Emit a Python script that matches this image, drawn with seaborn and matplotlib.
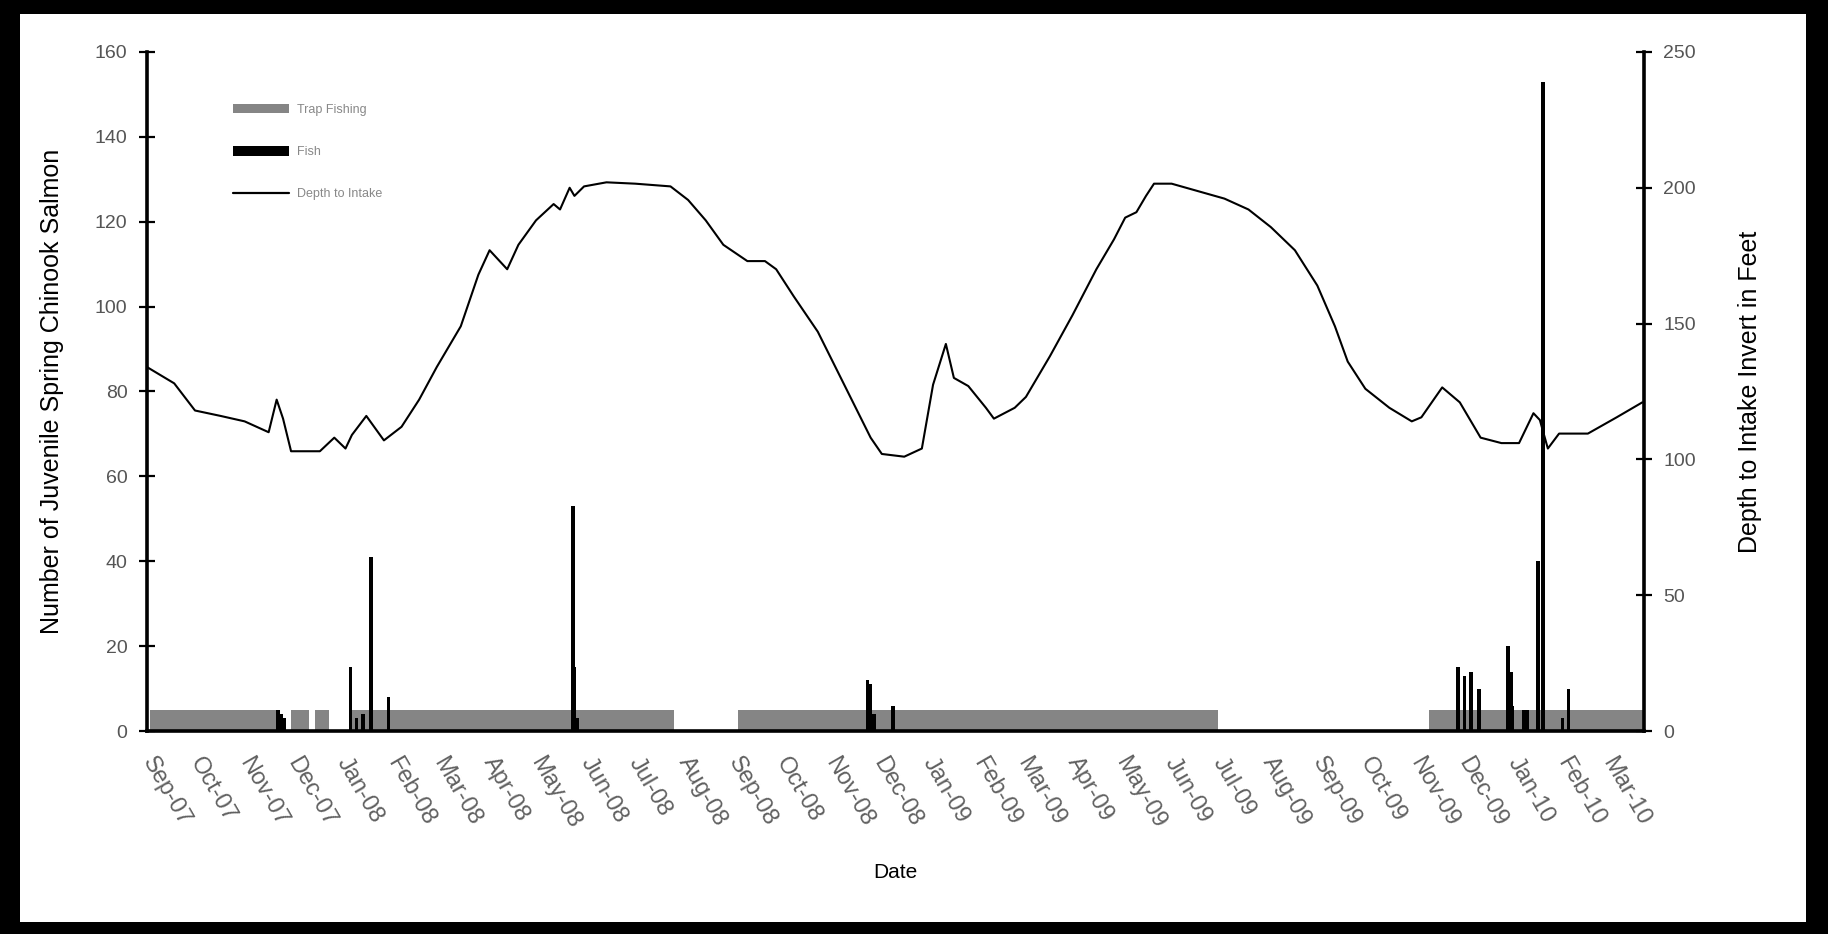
import matplotlib
matplotlib.use("Agg")
import matplotlib.pyplot as plt
import matplotlib.dates as mdates
from matplotlib.patches import Patch, Rectangle
from matplotlib.lines import Line2D
import pandas as pd
import seaborn as sns

# ---------------- data ----------------
# periods when the trap was sampling (drawn as grey bars of height 5)
sample_start = ["2007-09-03", "2007-11-30", "2007-12-15", "2008-01-07", "2008-09-04", "2009-11-10"]
sample_end = ["2007-11-21", "2007-12-11", "2007-12-24", "2008-07-26", "2009-07-01", "2010-03-24"]
sample_height = 5

# daily catch of juvenile spring Chinook salmon
catch_dates = ["2007-11-22", "2007-11-24", "2007-11-26",
               "2008-01-06", "2008-01-10", "2008-01-14", "2008-01-19", "2008-01-30",
               "2008-05-24", "2008-05-25", "2008-05-27",
               "2008-11-24", "2008-11-26", "2008-11-28", "2008-12-10",
               "2009-11-28", "2009-12-02", "2009-12-06", "2009-12-11",
               "2009-12-29", "2009-12-31", "2010-01-01", "2010-01-08", "2010-01-10",
               "2010-01-17", "2010-01-20", "2010-02-01", "2010-02-05"]
catch_counts = [5, 4, 3,
                15, 3, 4, 41, 8,
                53, 15, 3,
                12, 11, 4, 6,
                15, 13, 14, 10,
                20, 14, 6, 5, 5,
                40, 153, 3, 10]

# depth to intake invert (feet)
depth_dates = ["2007-09-01", "2007-09-18", "2007-10-01", "2007-10-17", "2007-11-01", "2007-11-16",
               "2007-11-21", "2007-11-25", "2007-11-30", "2007-12-07", "2007-12-18", "2007-12-27",
               "2008-01-03", "2008-01-07", "2008-01-16", "2008-01-27", "2008-02-07", "2008-02-18",
               "2008-02-29", "2008-03-15", "2008-03-26", "2008-04-02", "2008-04-13", "2008-04-20",
               "2008-05-01", "2008-05-12", "2008-05-16", "2008-05-22", "2008-05-25", "2008-05-31",
               "2008-06-14", "2008-07-02", "2008-07-24", "2008-08-04", "2008-08-15", "2008-08-26",
               "2008-09-10", "2008-09-21", "2008-09-28", "2008-10-09", "2008-10-24", "2008-11-04",
               "2008-11-15", "2008-11-26", "2008-12-03", "2008-12-17", "2008-12-28", "2009-01-04",
               "2009-01-12", "2009-01-17", "2009-01-26", "2009-02-06", "2009-02-11", "2009-02-24",
               "2009-03-03", "2009-03-18", "2009-04-01", "2009-04-16", "2009-04-27", "2009-05-04",
               "2009-05-11", "2009-05-17", "2009-05-22", "2009-06-02", "2009-06-17", "2009-07-05",
               "2009-07-20", "2009-08-03", "2009-08-18", "2009-09-01", "2009-09-12", "2009-09-20",
               "2009-10-01", "2009-10-16", "2009-10-30", "2009-11-05", "2009-11-18", "2009-11-29",
               "2009-12-12", "2009-12-25", "2010-01-05", "2010-01-14", "2010-01-18", "2010-01-23",
               "2010-01-30", "2010-02-17", "2010-03-07", "2010-03-23"]
depth_values = [134, 128, 118, 116, 114, 110,
                122, 115, 103, 103, 103, 108,
                104, 109, 116, 107, 112, 122,
                134, 149, 168, 177, 170, 179,
                188, 194, 192, 200, 197, 200.5,
                202, 201.5, 200.5, 195.5, 188, 179,
                173, 173, 170, 160, 147, 134,
                121, 108, 102, 101, 104, 127.5,
                142.5, 130, 127, 119, 115, 119,
                123, 138, 153, 170, 181, 189,
                191, 197, 201.5, 201.5, 199, 196,
                192, 185.5, 177, 164, 149, 136,
                126, 119, 114, 115.5, 126.5, 121,
                108, 106, 106, 117, 114.5, 104,
                109.5, 109.5, 115.5, 121]

left_ticks = [0, 20, 40, 60, 80, 100, 120, 140, 160]
right_ticks = [0, 50, 100, 150, 200, 250]
x_start, x_end = "2007-09-01", "2010-03-24"

legend_labels = ["Trap Fishing", "Fish", "Depth to Intake"]
left_label = "Number of Juvenile Spring Chinook Salmon"
right_label = "Depth to Intake Invert in Feet"
x_label = "Date"

# ---------------- plot ----------------
sns.set_style("white")
plt.rcParams['font.family'] = ['Liberation Sans', 'DejaVu Sans']

fig = plt.figure(figsize=(18.28, 9.34), dpi=100)
ax = fig.add_axes([0.0804, 0.2173, 0.8189, 0.7271])
ax2 = ax.twinx()

s0 = mdates.date2num(pd.to_datetime(sample_start))
s1 = mdates.date2num(pd.to_datetime(sample_end))
ax.bar(s0, [sample_height] * len(s0), width=s1 - s0, align='edge',
       color='#858585', edgecolor='none', zorder=2)

cx = mdates.date2num(pd.to_datetime(catch_dates))
ax.bar(cx, catch_counts, width=2.2, align='center', color='black',
       edgecolor='none', zorder=3)

df = pd.DataFrame({"x": mdates.date2num(pd.to_datetime(depth_dates)), "depth": depth_values})
sns.lineplot(data=df, x="x", y="depth", ax=ax2, color='black', linewidth=1.5,
             estimator=None, sort=True)

ax.set_xlim(mdates.date2num(pd.Timestamp(x_start)), mdates.date2num(pd.Timestamp(x_end)))
ax.set_ylim(0, 160)
ax2.set_ylim(0, 250)
ax.set_yticks(left_ticks)
ax2.set_yticks(right_ticks)

ax.xaxis.set_major_locator(mdates.MonthLocator())
ax.xaxis.set_major_formatter(mdates.DateFormatter('%b-%y'))

for sp in ['top', 'right']:
    ax.spines[sp].set_visible(False)
for sp in ['top', 'left', 'bottom']:
    ax2.spines[sp].set_visible(False)
for sp, a in [('left', ax), ('bottom', ax), ('right', ax2)]:
    a.spines[sp].set_linewidth(2.6)
    a.spines[sp].set_color('black')

ax.tick_params(axis='x', direction='inout', length=12, width=2, color='black',
               labelsize=17, labelcolor='#606060', pad=14)
ax.tick_params(axis='y', direction='inout', length=12, width=1.6, color='black',
               labelsize=14, labelcolor='#555555', pad=8, left=True)
ax2.tick_params(axis='y', direction='inout', length=12, width=1.6, color='black',
                labelsize=14, labelcolor='#555555', pad=8, right=True)

for lab in ax.get_xticklabels():
    lab.set_rotation(-60)
    lab.set_ha('left')
    lab.set_va('center')
    lab.set_rotation_mode('anchor')

ax.set_xlabel(x_label, fontsize=15, labelpad=22, color='black')
ax.set_ylabel(left_label, fontsize=18, labelpad=22, color='black')
ax2.set_ylabel(right_label, fontsize=18, labelpad=30, color='black', rotation=90)
ax2.set_xlabel("")

handles = [Patch(facecolor='#858585', edgecolor='none'),
           Patch(facecolor='black', edgecolor='none'),
           Line2D([0], [0], color='black', linewidth=1.6)]
leg = ax2.legend(handles, legend_labels, loc='upper left', bbox_to_anchor=(0.05, 0.94),
                 frameon=False, fontsize=9, handlelength=4.5, handleheight=0.8,
                 labelspacing=2.4, handletextpad=0.6, labelcolor='#888888')

# thick black frame around the picture
W, H = 1828, 934
for (x0, y0, w, h) in [(0, 0, 20 / W, 1), (1 - 22 / W, 0, 22 / W, 1),
                       (0, 1 - 14 / H, 1, 14 / H), (0, 0, 1, 12 / H)]:
    fig.add_artist(Rectangle((x0, y0), w, h, transform=fig.transFigure,
                             facecolor='black', edgecolor='none'))

fig.savefig("out.png", dpi=100)
